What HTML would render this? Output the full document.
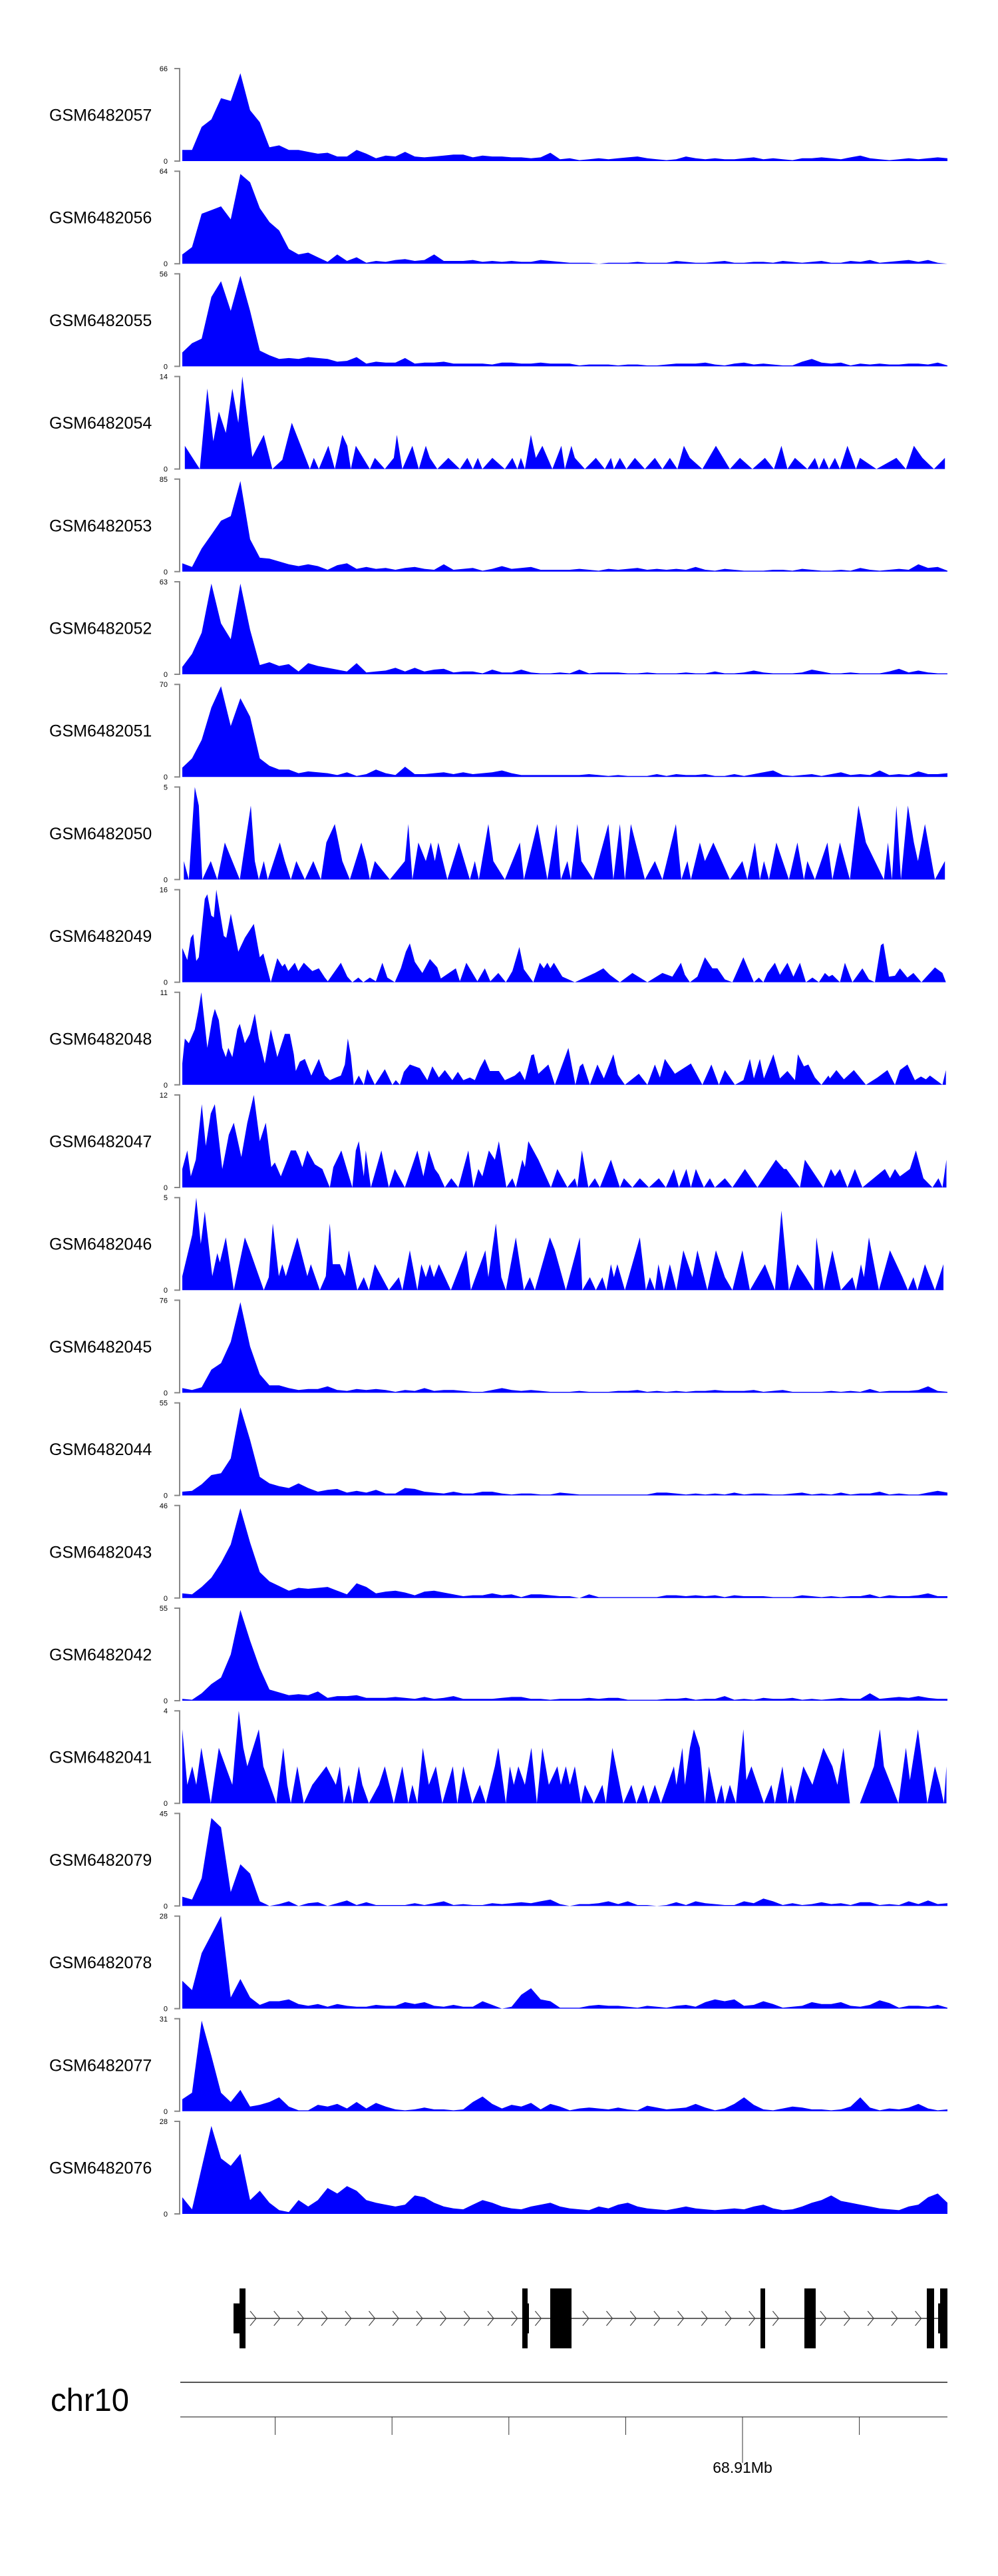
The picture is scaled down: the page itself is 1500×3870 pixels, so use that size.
<!DOCTYPE html>
<html>
<head>
<meta charset="utf-8">
<style>
html,body{margin:0;padding:0;background:#fff;}
svg{display:block;}
text{font-family:"Liberation Sans",Arial,sans-serif;}
</style>
</head>
<body>
<svg id="chart" width="1500" height="3870" viewBox="0 0 1500 3870" xmlns="http://www.w3.org/2000/svg"></svg>
<script>
// ---------- data ----------
const trackNames = ["GSM6482057","GSM6482056","GSM6482055","GSM6482054","GSM6482053","GSM6482052","GSM6482051","GSM6482050","GSM6482049","GSM6482048","GSM6482047","GSM6482046","GSM6482045","GSM6482044","GSM6482043","GSM6482042","GSM6482041","GSM6482079","GSM6482078","GSM6482077","GSM6482076"];
const trackMax = [66,64,56,14,85,63,70,5,16,11,12,5,76,55,46,55,4,45,28,31,28];
// signal as percent of track max; uniform bins unless a matching position array (bin units 5..1535) exists
const sig057 = [12,12,37,45,68,65,95,55,42,15,17,12,12,10,8,9,5,5,12,8,3,6,5,10,5,4,5,6,7,7,4,6,5,5,4,4,3,4,9,2,3,1,2,3,2,3,4,5,3,2,1,2,5,3,2,3,2,2,3,4,2,3,2,1,3,3,4,3,2,4,6,3,2,1,2,3,2,3,4,3];
const sig056 = [10,18,54,58,62,48,97,88,60,45,36,16,10,12,7,2,10,3,7,1,3,2,4,5,3,4,10,3,3,3,4,2,3,2,3,2,2,4,3,2,1,1,1,0,1,1,1,2,1,1,1,3,2,1,1,2,3,1,1,2,2,1,3,2,1,2,3,1,1,3,2,4,1,2,3,4,2,4,1,0];
const sig055 = [15,25,30,75,92,60,98,60,17,12,8,9,8,10,9,8,5,6,10,3,5,4,4,9,3,4,4,5,3,3,3,3,2,4,4,3,3,4,3,3,3,1,2,2,2,1,2,2,1,1,2,3,3,3,4,2,1,3,4,2,3,2,1,1,5,8,4,3,4,1,3,2,3,2,2,3,3,2,4,1];
const pos054 = [10,40,55,67,78,92,105,117,125,145,168,185,205,224,260,268,278,297,310,325,335,342,352,380,390,410,428,434,445,465,478,492,500,515,537,560,575,586,596,605,625,650,665,675,682,690,702,712,725,745,763,770,783,790,810,832,850,862,868,880,893,910,930,950,965,980,995,1008,1020,1045,1072,1100,1120,1145,1170,1188,1203,1215,1230,1255,1270,1278,1288,1298,1310,1320,1335,1352,1360,1393,1433,1452,1468,1485,1508,1530];
const sig054 = [25,0,87,30,62,39,87,50,100,13,37,0,10,50,0,12,0,25,0,37,25,0,25,0,12,0,12,37,0,25,0,25,12,0,12,0,12,0,12,0,12,0,12,0,12,0,37,12,25,0,25,0,25,12,0,12,0,12,0,12,0,12,0,12,0,12,0,25,12,0,25,0,12,0,12,0,25,0,12,0,12,0,12,0,12,0,25,0,12,0,12,0,25,12,0,12];
const sig053 = [9,5,25,40,55,60,98,35,15,14,11,8,6,8,6,2,7,9,3,5,3,4,2,4,5,3,2,8,2,3,4,1,3,6,3,4,5,2,2,2,2,3,2,1,3,2,3,4,2,3,2,3,2,5,2,1,3,2,1,1,1,2,2,1,3,2,1,1,2,1,4,2,1,2,3,2,8,4,5,1];
const sig052 = [8,22,45,98,55,38,98,48,10,13,9,11,3,12,9,7,5,3,12,2,3,4,7,3,7,3,5,6,2,3,3,1,5,2,2,5,2,1,1,2,1,5,1,2,2,2,1,1,2,1,1,1,2,1,1,3,1,1,2,4,2,1,1,1,2,5,3,1,1,2,1,1,1,3,6,2,4,2,1,1];
const sig051 = [10,20,40,75,98,55,85,65,20,12,8,8,4,6,5,4,2,5,1,3,8,4,2,11,3,3,4,5,3,5,3,4,5,7,4,2,2,2,2,2,2,2,3,2,1,2,1,1,1,3,1,3,2,2,3,1,1,3,1,3,5,7,2,1,2,3,1,3,5,2,3,2,7,2,3,2,6,3,3,4];
const pos050 = [8,18,30,38,45,62,75,90,120,142,150,158,168,176,200,210,222,233,250,267,282,293,310,325,340,363,373,380,390,420,450,457,465,477,492,502,510,517,535,558,580,590,598,617,627,650,680,688,715,735,753,762,775,782,795,803,827,857,867,880,890,902,930,950,965,992,1003,1015,1022,1040,1050,1067,1100,1125,1135,1150,1160,1168,1178,1193,1218,1235,1248,1255,1270,1295,1305,1320,1340,1357,1372,1408,1416,1424,1433,1442,1456,1468,1476,1490,1510,1530];
const sig050 = [20,0,100,80,0,20,0,40,0,80,20,0,20,0,40,20,0,20,0,20,0,40,60,20,0,40,20,0,20,0,20,60,0,40,20,40,20,40,0,40,0,20,0,60,20,0,40,0,60,0,60,0,20,0,60,20,0,60,0,60,0,60,0,20,0,60,0,20,0,40,20,40,0,20,0,40,0,20,0,40,0,40,0,20,0,40,0,40,0,80,40,0,40,0,80,0,80,40,20,60,0,20];
const pos049 = [5,15,22,27,33,38,50,55,63,68,73,88,93,102,117,130,148,160,167,182,195,205,210,217,230,237,248,265,278,290,296,322,335,345,357,367,380,392,405,415,430,442,452,460,470,485,500,515,522,552,560,573,583,595,610,621,637,652,665,679,688,707,720,728,735,741,748,765,790,830,847,860,880,905,935,965,985,1002,1010,1020,1035,1050,1065,1075,1090,1105,1127,1148,1158,1167,1175,1190,1200,1215,1227,1240,1252,1265,1278,1290,1298,1305,1320,1330,1345,1365,1378,1390,1402,1407,1418,1430,1440,1455,1467,1483,1510,1525,1532];
const sig049 = [37,24,48,52,23,27,90,95,72,70,100,50,48,74,33,48,63,27,31,0,26,17,20,12,21,12,21,12,15,5,1,21,6,0,5,0,5,1,21,5,0,15,33,42,22,10,25,16,4,15,1,21,12,1,15,1,10,0,12,38,14,0,21,15,21,15,21,6,0,10,15,8,0,10,0,10,6,21,8,0,6,27,15,15,3,0,27,0,5,0,10,21,8,21,6,21,0,5,0,10,6,8,0,21,0,15,3,0,40,42,6,7,15,5,10,0,16,10,0];
const pos048 = [5,10,18,30,37,43,55,65,70,78,85,92,97,105,115,120,130,140,150,158,170,182,195,210,220,228,232,240,250,263,278,290,300,312,322,330,336,342,348,358,368,375,390,410,425,432,440,448,460,480,495,505,518,530,545,556,567,580,590,600,610,620,638,650,670,680,690,703,708,717,737,750,777,791,800,806,820,835,848,867,876,890,918,935,950,960,970,990,1022,1045,1063,1078,1090,1110,1127,1140,1148,1160,1168,1187,1200,1215,1230,1236,1248,1257,1270,1283,1297,1300,1313,1328,1348,1372,1395,1415,1430,1440,1455,1470,1482,1492,1500,1525,1532];
const sig048 = [23,50,45,60,80,100,40,72,82,70,40,30,40,30,60,66,45,55,77,50,23,60,30,55,55,33,15,25,28,10,28,10,5,8,10,22,50,32,0,10,0,17,0,17,0,5,0,14,22,18,5,20,8,16,5,14,5,8,5,18,28,15,15,5,10,15,5,32,33,12,22,0,40,0,20,23,0,22,7,33,11,0,12,0,22,8,28,12,23,0,22,0,16,0,5,28,7,28,7,33,7,15,5,33,20,22,8,0,10,7,16,6,16,0,8,16,0,16,22,5,9,6,10,0,16];
const pos047 = [5,15,22,32,44,52,62,70,85,92,98,108,123,135,148,160,172,183,190,202,222,232,238,245,255,270,285,300,307,323,345,352,358,368,372,382,403,418,430,450,475,487,498,510,518,530,543,557,577,587,597,605,618,630,638,653,665,672,685,690,697,717,742,755,775,790,795,804,817,830,840,862,880,888,905,920,938,958,972,988,998,1013,1022,1032,1048,1060,1070,1090,1105,1130,1155,1192,1208,1213,1240,1250,1287,1302,1310,1320,1335,1350,1365,1410,1420,1430,1440,1460,1472,1487,1505,1517,1525,1533];
const sig047 = [20,40,12,30,90,45,80,90,20,40,57,70,33,70,100,50,70,22,27,12,40,40,33,22,40,25,20,0,22,40,0,40,50,12,40,0,40,0,20,0,40,12,40,20,14,0,10,0,40,0,20,12,40,30,50,0,10,0,30,22,50,30,0,20,0,10,0,40,0,10,0,30,0,10,0,10,0,10,0,20,0,20,0,20,0,10,0,10,0,20,0,30,20,20,0,30,0,20,12,20,0,20,0,20,10,20,12,20,40,10,0,10,0,30];
const pos046 = [5,25,33,42,50,65,75,80,92,108,130,140,168,178,186,198,205,212,235,255,262,280,292,300,306,320,330,338,355,368,378,390,418,438,445,460,475,483,492,500,508,518,542,573,582,611,617,632,643,652,672,688,700,710,740,750,772,800,805,820,832,845,853,862,868,875,890,920,932,940,950,957,968,980,993,1007,1025,1035,1055,1072,1090,1105,1125,1140,1170,1190,1203,1218,1235,1252,1268,1273,1288,1305,1322,1345,1352,1362,1368,1378,1398,1420,1445,1456,1467,1475,1490,1510,1527];
const sig046 = [15,60,100,50,85,15,40,30,57,0,57,43,0,14,72,15,28,15,57,15,28,0,15,72,28,28,15,43,0,14,0,28,0,14,0,43,0,28,14,28,14,28,0,43,0,43,14,72,14,0,57,0,14,0,57,43,0,57,0,14,0,14,0,28,14,28,0,57,0,14,0,28,0,28,0,43,14,43,0,43,14,0,43,0,28,0,86,0,28,14,0,57,0,43,0,14,0,28,14,57,0,43,14,0,14,0,28,0,28];
const sig045 = [5,3,6,25,32,55,98,50,20,8,8,5,3,4,4,7,3,2,4,3,4,3,1,3,2,5,2,3,3,2,1,1,3,5,3,2,3,2,1,1,1,2,1,1,1,2,2,3,1,2,1,2,1,2,2,3,2,2,2,3,1,2,3,1,1,1,1,2,1,2,1,4,1,2,2,2,3,7,2,1];
const sig044 = [4,5,12,22,24,40,95,60,20,13,10,8,13,8,4,6,7,3,5,3,6,2,2,8,7,4,3,2,4,2,2,4,4,2,1,2,2,1,1,3,2,1,1,1,1,1,1,1,1,3,3,2,1,2,1,2,1,3,1,2,2,1,1,2,3,1,2,1,3,1,2,2,4,1,2,1,1,3,5,3];
const sig043 = [5,4,12,22,38,58,97,60,28,18,13,8,11,10,11,12,8,4,16,12,5,7,8,6,3,7,8,6,4,2,3,3,5,3,4,1,4,4,3,2,2,0,4,1,1,1,1,1,1,1,3,3,2,3,2,3,1,3,2,2,2,1,1,1,3,2,1,2,1,2,2,4,1,3,2,2,3,5,2,2];
const sig042 = [2,1,8,18,25,50,98,65,35,12,9,6,7,6,10,3,5,5,6,3,3,3,4,3,2,4,2,3,5,2,2,2,2,3,4,4,2,2,1,2,2,2,3,2,3,3,1,1,1,1,2,2,3,1,2,2,5,1,2,1,3,2,2,3,1,2,1,2,3,2,2,8,2,3,4,3,5,3,2,2];
const pos041 = [5,15,25,33,43,62,78,105,118,127,135,158,167,193,207,215,222,235,248,265,293,312,320,328,338,345,358,365,378,398,410,428,445,457,465,475,486,498,512,525,546,555,567,585,600,612,630,637,652,660,668,677,690,703,714,725,738,755,762,772,780,790,802,810,828,845,852,865,887,903,913,927,937,950,962,988,993,1005,1010,1020,1028,1040,1050,1058,1073,1083,1090,1100,1112,1127,1133,1143,1168,1183,1190,1205,1215,1222,1230,1247,1265,1287,1305,1315,1327,1340,1360,1388,1400,1408,1437,1452,1460,1476,1495,1510,1520,1528,1533];
const sig041 = [80,20,40,20,60,0,60,20,100,60,40,80,40,0,60,20,0,40,0,20,40,20,40,0,20,0,40,20,0,20,40,0,40,0,20,0,60,20,40,0,40,0,40,0,20,0,40,60,0,40,20,40,20,60,0,60,20,40,20,40,20,40,0,20,0,20,0,60,0,20,0,20,0,20,0,40,20,60,20,60,80,60,0,40,0,20,0,20,0,80,25,40,0,20,0,40,0,20,0,40,20,60,40,20,60,0,0,40,80,40,0,60,25,80,0,40,20,0,40];
const sig079 = [10,7,30,95,85,15,45,35,5,0,2,5,0,3,4,0,3,6,1,4,1,1,1,1,3,1,3,5,1,2,1,1,3,2,3,4,3,5,7,2,0,2,2,3,5,2,5,1,1,0,1,4,1,5,3,2,1,1,5,3,8,5,1,3,1,2,4,2,3,1,4,4,1,2,1,5,2,6,2,3];
const sig078 = [30,20,60,80,100,12,32,12,4,8,8,10,5,3,5,2,5,3,2,2,4,3,3,7,5,7,3,2,4,2,2,8,4,0,2,15,22,10,8,1,1,1,3,4,3,3,2,1,3,2,1,3,4,2,7,10,8,10,3,4,8,5,1,2,3,7,5,5,7,3,2,4,9,6,1,3,3,2,4,1];
const sig077 = [13,20,98,60,20,10,23,5,7,10,15,5,1,1,7,5,8,3,10,3,9,5,2,1,2,4,2,2,1,2,10,16,8,3,7,5,9,2,8,5,1,3,4,3,2,4,2,1,6,4,2,3,4,8,4,1,3,8,15,7,2,1,3,5,4,2,2,1,2,5,15,4,1,3,2,4,8,3,1,2];
const sig076 = [18,5,50,95,60,52,65,15,25,12,4,2,15,8,15,28,22,30,25,15,12,10,8,10,20,18,12,8,6,5,10,15,12,8,6,5,8,10,12,8,6,5,4,8,6,10,12,8,6,5,4,6,8,6,5,4,5,6,5,8,10,6,4,5,8,12,15,20,14,12,10,8,6,5,4,8,10,18,22,12];
const trackSignals = [sig057,sig056,sig055,sig054,sig053,sig052,sig051,sig050,sig049,sig048,sig047,sig046,sig045,sig044,sig043,sig042,sig041,sig079,sig078,sig077,sig076];
const trackPositions = [null,null,null,pos054,null,null,null,pos050,pos049,pos048,pos047,pos046,null,null,null,null,pos041,null,null,null,null];

// gene model (bp)
const exonStarts = [68888217,68888474,68900575,68900803,68901771,68910769,68912648,68917887,68918371,68918456];
const exonEnds   = [68888474,68888730,68900803,68900860,68902682,68910968,68913132,68918200,68918456,68918770];
const exonTall   = [0,1,1,0,1,1,1,1,0,1];
const axisTicks = [68890000,68895000,68900000,68905000,68910000,68915000];
const axisLabelTick = 68910000;
const axisLabel = "68.91Mb";

// ---------- scales ----------
const SVGNS = "http://www.w3.org/2000/svg";
const svg = document.getElementById("chart");
const PX0 = 274, PX1 = 1424;
const binX = b => PX0 + (b - 5) / 1530 * (PX1 - PX0);
const bpX = bp => 274 + (bp - 68886025) / 5000 * 175.6;
const TRACK_TOP = 103, TRACK_STEP = 154.2, TRACK_H = 139;

function mk(tag, attrs, parent) {
  const e = document.createElementNS(SVGNS, tag);
  for (const k in attrs) e.setAttribute(k, attrs[k]);
  (parent || svg).appendChild(e);
  return e;
}

trackNames.forEach((name, t) => {
  const top = TRACK_TOP + t * TRACK_STEP;
  const bot = top + TRACK_H;
  const yS = v => bot - v / 100 * TRACK_H;
  const g = mk("g", {});
  
  
  const lab = mk("text", {x: 74, y: (top + bot) / 2 + 9, "font-size": 25, fill: "#000"}, g);
  lab.textContent = name;
  
  
  const ax = mk("path", {d: `M262 ${top} H270 V${bot} H262`, stroke: "#888", "stroke-width": 2, fill: "none"}, g);
  
  
  const tMax = mk("text", {x: 252, y: top + 4, "font-size": 11, "text-anchor": "end", fill: "#000"}, g);
  tMax.textContent = String(trackMax[t]);
  
  
  const tMin = mk("text", {x: 252, y: bot + 4, "font-size": 11, "text-anchor": "end", fill: "#000"}, g);
  tMin.textContent = "0";
  
  
  const vals = trackSignals[t];
  const pos = trackPositions[t];
  const n = vals.length;
  const pts = vals.map((v, i) => {
    const b = pos ? pos[i] : 5 + i * 1530 / (n - 1);
    return [binX(b), yS(v)];
  });
  let d = `M${pts[0][0].toFixed(1)} ${bot}`;
  pts.forEach(p => { d += ` L${p[0].toFixed(1)} ${p[1].toFixed(1)}`; });
  d += ` L${pts[pts.length - 1][0].toFixed(1)} ${bot} Z`;
  const area = mk("path", {d: d, fill: "#0000FF", stroke: "none"}, g);
  
  
});

// gene model
const gg = mk("g", {});


const GY = 3483;
const gx0 = bpX(exonStarts[0]), gx1 = bpX(exonEnds[exonEnds.length - 1]);
const iline = mk("line", {x1: gx0, y1: GY, x2: gx1, y2: GY, stroke: "#333", "stroke-width": 1.5}, gg);


for (let cx = 385; cx < gx1 - 4; cx += 35.7) {
  let inside = false;
  exonStarts.forEach((s, i) => { if (cx > bpX(s) - 4 && cx < bpX(exonEnds[i]) + 6) inside = true; });
  if (inside) continue;
  const ch = mk("path", {d: `M${cx - 9} ${GY - 11} L${cx} ${GY} L${cx - 9} ${GY + 11}`, stroke: "#444", "stroke-width": 1.2, fill: "none"}, gg);
  
  
}
exonStarts.forEach((s, i) => {
  const h = exonTall[i] ? 90 : 45;
  const r = mk("rect", {x: bpX(s), y: GY - h / 2, width: bpX(exonEnds[i]) - bpX(s), height: h, fill: "#000"}, gg);
  
  
});

// genome axis
const ag = mk("g", {});


const chr = mk("text", {x: 76, y: 3622, "font-size": 48, fill: "#000", textLength: 118, lengthAdjust: "spacingAndGlyphs"}, ag);
chr.textContent = "chr10";


const l1 = mk("line", {x1: 271, y1: 3579, x2: 1424, y2: 3579, stroke: "#555", "stroke-width": 2}, ag);


const l2 = mk("line", {x1: 271, y1: 3631, x2: 1424, y2: 3631, stroke: "#888", "stroke-width": 2}, ag);


axisTicks.forEach(tk => {
  const x = bpX(tk);
  const tl = mk("line", {x1: x, y1: 3631, x2: x, y2: tk === axisLabelTick ? 3700 : 3658, stroke: "#333", "stroke-width": 1}, ag);
  
  
  if (tk === axisLabelTick) {
    const tt = mk("text", {x: x, y: 3715, "font-size": 23, "text-anchor": "middle", fill: "#000"}, ag);
    tt.textContent = axisLabel;
    
    
  }
});
</script>
</body>
</html>
